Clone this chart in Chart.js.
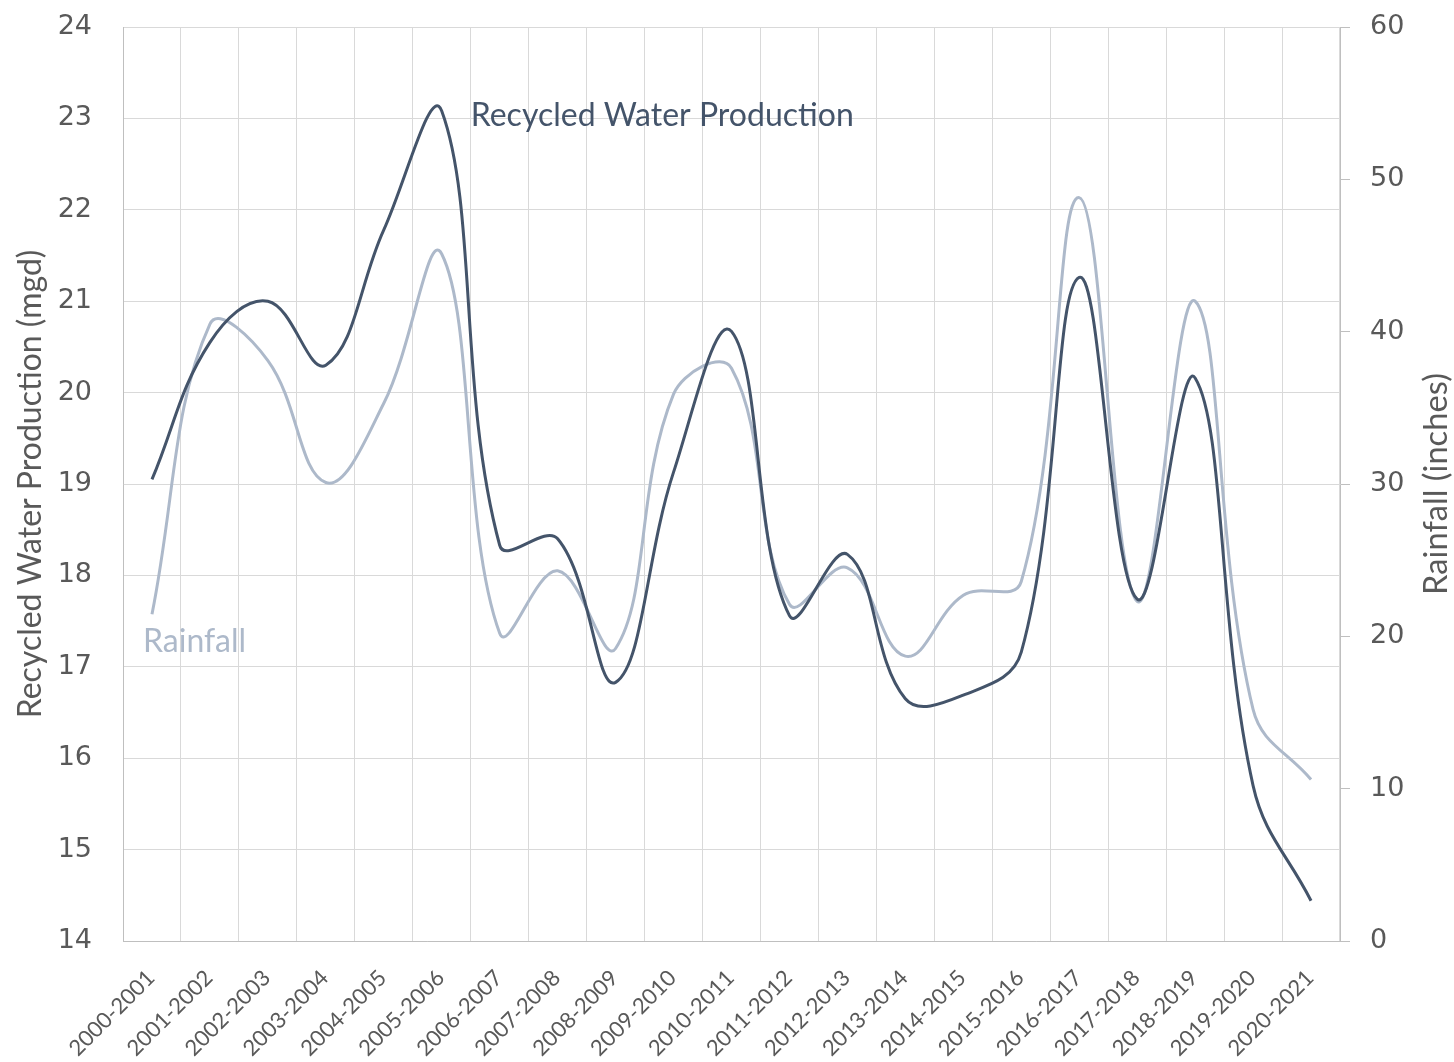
<!DOCTYPE html>
<html>
<head>
<meta charset="utf-8">
<script src="https://cdn.jsdelivr.net/npm/chart.js@4.4.1/dist/chart.umd.min.js"></script>
<style>
  html, body { margin: 0; padding: 0; background: #fff; }
</style>
</head>
<body>
<canvas id="chart" width="1454" height="1062"></canvas>
<script>
var seasons = ['2000-2001', '2001-2002', '2002-2003', '2003-2004', '2004-2005', '2005-2006',
    '2006-2007', '2007-2008', '2008-2009', '2009-2010', '2010-2011', '2011-2012', '2012-2013',
    '2013-2014', '2014-2015', '2015-2016', '2016-2017', '2017-2018', '2018-2019', '2019-2020',
    '2020-2021'];
// mgd
var recycled = [19.05, 20.55, 21.0, 20.3, 21.78, 23.08, 18.33, 18.40, 16.83, 19.13, 20.67,
    17.56, 18.23, 16.65, 16.69, 17.16, 21.26, 17.74, 20.16, 15.70, 14.44];
// inches
var rainfall = [21.45, 40.5, 38.1, 30.1, 35.3, 45.1, 20.2, 24.3, 19.2, 35.9, 37.6,
    22.1, 24.5, 18.7, 22.7, 23.6, 48.8, 22.3, 42.0, 15.2, 10.6];
var leftTicks = [14, 15, 16, 17, 18, 19, 20, 21, 22, 23, 24];
var rightTicks = [0, 10, 20, 30, 40, 50, 60];

var darkColor = '#44546A';
var lightColor = '#ADB9CA';
var textColor = '#595959';
var soft = 'Lato, "Open Sans", sans-serif';
var wide = '"DejaVu Sans", Verdana, sans-serif';

// font size that makes text span the given width
function fitFont(ctx, text, family, width) {
    ctx.font = '100px ' + family;
    var w = ctx.measureText(text).width;
    return (100 * width / w).toFixed(1) + 'px ' + family;
}

function drawUpText(ctx, text, cx, cy, width) {
    ctx.save();
    ctx.font = fitFont(ctx, text, soft, width);
    ctx.textAlign = 'center';
    ctx.textBaseline = 'middle';
    ctx.fillStyle = textColor;
    ctx.translate(cx, cy);
    ctx.rotate(-Math.PI / 2);
    ctx.fillText(text, 0, 0);
    ctx.restore();
}

var labelsPlugin = {
    id: 'labelsPlugin',
    afterDraw: function (chart) {
        var ctx = chart.ctx;
        var area = chart.chartArea;
        var x = chart.scales.x;
        var yl = chart.scales.yLeft;
        var midY = (area.top + area.bottom) / 2;

        ctx.save();
        ctx.textBaseline = 'middle';
        ctx.textAlign = 'left';

        // series names
        ctx.font = fitFont(ctx, 'Recycled Water Production', soft, 383);
        ctx.fillStyle = darkColor;
        ctx.fillText('Recycled Water Production',
            (x.getPixelForValue(5) + x.getPixelForValue(6)) / 2, yl.getPixelForValue(23.03));
        ctx.font = fitFont(ctx, 'Rainfall', soft, 103);
        ctx.fillStyle = lightColor;
        ctx.fillText('Rainfall', area.left + 20, yl.getPixelForValue(17.28));
        ctx.restore();

        // axis titles, both read bottom to top
        drawUpText(ctx, 'Recycled Water Production (mgd)', 31, midY, 468);
        drawUpText(ctx, 'Rainfall (inches)', 1436, midY, 222);
    }
};

new Chart(document.getElementById('chart'), {
    type: 'line',
    data: {
        labels: seasons,
        datasets: [{
            label: 'Recycled Water Production',
            data: recycled,
            yAxisID: 'yLeft',
            borderColor: darkColor,
            borderWidth: 3,
            pointRadius: 0,
            tension: 0.4,
            fill: false
        }, {
            label: 'Rainfall',
            data: rainfall,
            yAxisID: 'yRight',
            borderColor: lightColor,
            borderWidth: 3,
            pointRadius: 0,
            tension: 0.4,
            fill: false
        }]
    },
    options: {
        responsive: false,
        animation: false,
        layout: { padding: { top: 27, left: 0, right: 0, bottom: 0 } },
        plugins: {
            legend: { display: false },
            tooltip: { enabled: false }
        },
        scales: {
            x: {
                offset: true,
                grid: { offset: true, color: '#D9D9D9', drawTicks: false },
                border: { color: '#BFBFBF' },
                ticks: {
                    color: textColor,
                    font: { family: soft, size: 22 },
                    maxRotation: 45,
                    minRotation: 45,
                    autoSkip: false,
                    padding: 24,
                    labelOffset: -1
                },
                afterFit: function (s) {
                    s.height = 121;
                    s.paddingLeft = 0;
                    s.paddingRight = 0;
                }
            },
            yLeft: {
                position: 'left',
                min: 14,
                max: 24,
                afterBuildTicks: function (s) {
                    s.ticks = leftTicks.map(function (v) { return { value: v }; });
                },
                grid: { color: '#D9D9D9', drawTicks: false },
                border: { color: '#BFBFBF' },
                ticks: {
                    color: textColor,
                    font: { family: wide, size: 27 },
                    padding: 31
                },
                afterFit: function (s) {
                    s.width = 123;
                    s.paddingTop = 0;
                    s.paddingBottom = 0;
                }
            },
            yRight: {
                position: 'right',
                min: 0,
                max: 60,
                afterBuildTicks: function (s) {
                    s.ticks = rightTicks.map(function (v) { return { value: v }; });
                },
                grid: { drawOnChartArea: false, drawTicks: true, tickLength: 10, color: '#BFBFBF' },
                border: { color: '#BFBFBF' },
                ticks: {
                    color: textColor,
                    font: { family: wide, size: 27 },
                    padding: 20
                },
                afterFit: function (s) {
                    s.width = 114;
                    s.paddingTop = 0;
                    s.paddingBottom = 0;
                }
            }
        }
    },
    plugins: [labelsPlugin]
});
</script>
</body>
</html>
